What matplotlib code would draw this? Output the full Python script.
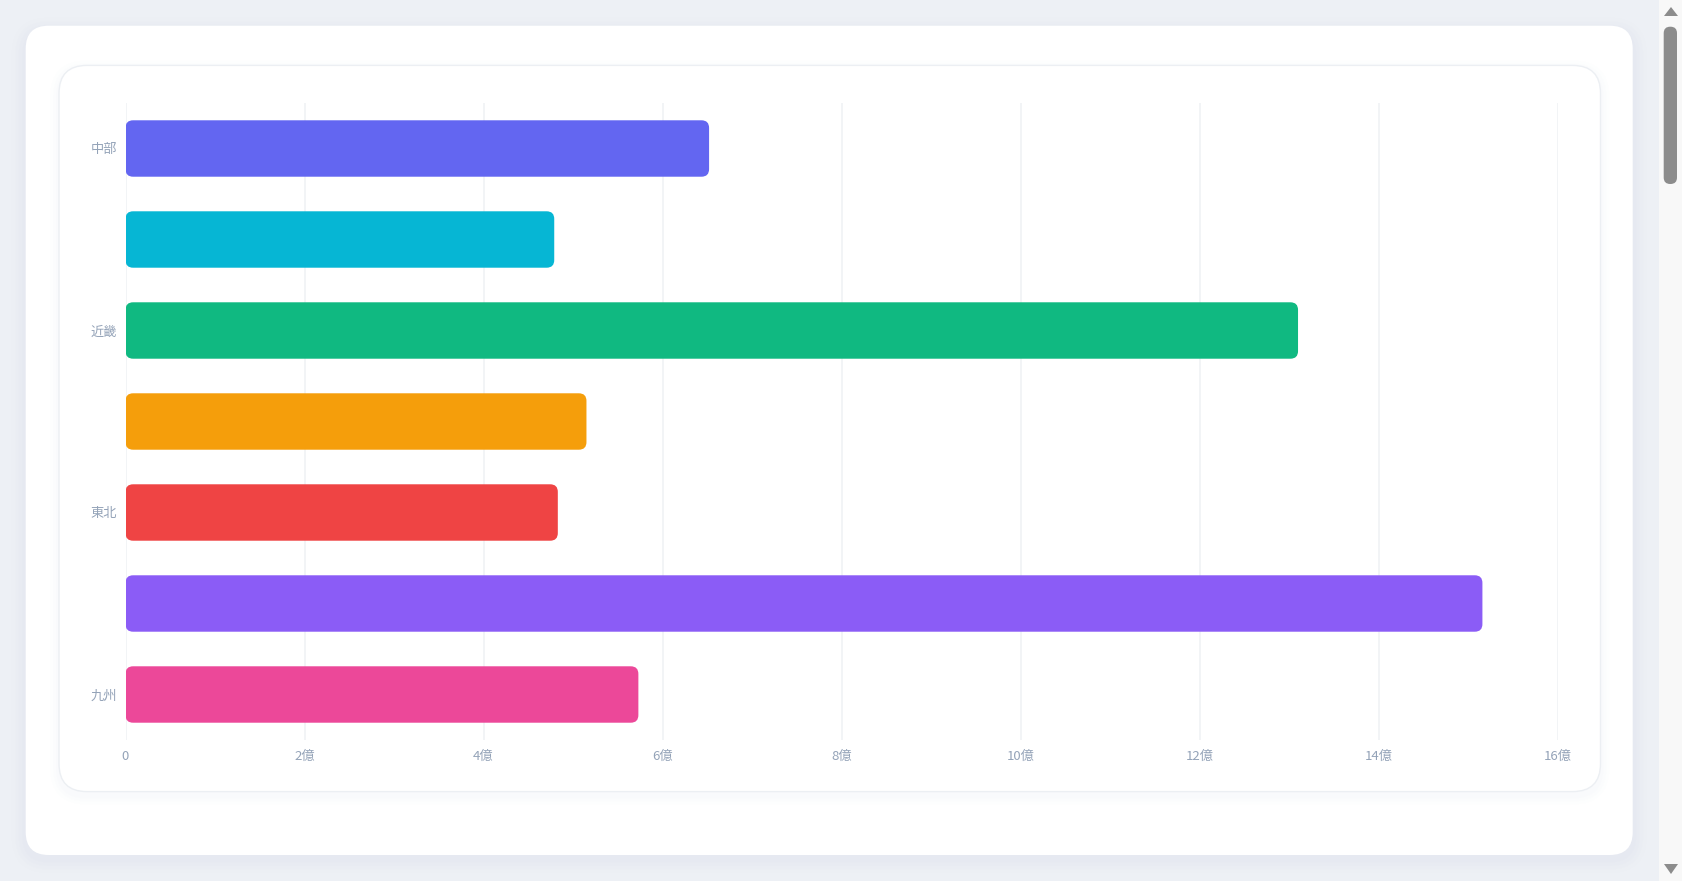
#!/usr/bin/env python3
"""Horizontal bar chart of regional values (units: 億), card-style layout."""
import matplotlib
matplotlib.use("Agg")
import matplotlib.pyplot as plt
from matplotlib.patches import FancyBboxPatch, Polygon

plt.rcParams["font.family"] = ["Noto Sans CJK JP", "DejaVu Sans"]

REGIONS = ["中部", "北海道", "近畿", "中国", "東北", "関東", "九州"]
VALUES = [6.52, 4.79, 13.10, 5.15, 4.83, 15.16, 5.73]   # 億
COLORS = ["#6366f1", "#06b6d4", "#10b981", "#f59e0b", "#ef4444", "#8b5cf6", "#ec4899"]
XTICKS = [0, 2, 4, 6, 8, 10, 12, 14, 16]
XLABELS = ["0"] + [f"{v}億" for v in XTICKS[1:]]

W, H = 1682, 881
TICK = "#94a3b8"
GRID = "#f0f2f5"


def card(fig, x0, y0, x1, y1, r, fc, ec="none", lw=0, z=0, alpha=1.0):
    # pixel coords, y measured from top of image
    p = FancyBboxPatch((x0, H - y1), x1 - x0, y1 - y0,
                       boxstyle=f"round,pad=0,rounding_size={r}",
                       fc=fc, ec=ec, lw=lw, transform=None, zorder=z, alpha=alpha)
    fig.patches.append(p)


fig = plt.figure(figsize=(W / 100, H / 100), dpi=100)
fig.patch.set_facecolor("#edf0f5")

# soft shadow + outer card
for i, a in enumerate([0.025, 0.03, 0.035, 0.04]):
    g = 14 - i * 3.5
    card(fig, 25.7 - g, 25.7 - g + 6, 1632.7 + g, 855 + g + 4, 23 + g, "#c5cedc", alpha=a)
card(fig, 25.7, 25.7, 1632.7, 855, 23, "white")
# inner card with faint shadow
for i, a in enumerate([0.02, 0.025, 0.03]):
    g = 9 - i * 3
    card(fig, 59 - g, 65.4 - g + 4, 1600.5 + g, 791.6 + g + 4, 28 + g, "#cbd3e0", alpha=a)
card(fig, 59, 65.4, 1600.5, 791.6, 28, "white", ec="#eceff3", lw=1.0)

# scrollbar
fig.patches.append(plt.Rectangle((1659, 0), W - 1659, H, fc="#f8f8f8", transform=None))
card(fig, 1663.7, 26.7, 1677, 184, 6.5, "#8c8c8c", z=2)
fig.patches.append(Polygon([(1664, H - 16), (1678, H - 16), (1671, H - 7)],
                           fc="#8c8c8c", transform=None))
fig.patches.append(Polygon([(1664, H - 864), (1678, H - 864), (1671, H - 874)],
                           fc="#8c8c8c", transform=None))

ax = fig.add_axes([125.5 / W, 141 / H, (1557.6 - 125.5) / W, (778 - 141) / H])
ax.set_zorder(10)
ax.set_facecolor("none")
ax.set_xlim(0, 16)
ax.set_ylim(len(REGIONS) - 0.5, -0.5)

bh = 0.62
for i, (v, c) in enumerate(zip(VALUES, COLORS)):
    ax.add_patch(FancyBboxPatch((0, i - bh / 2), v, bh,
                                boxstyle="round,pad=0,rounding_size=0.085",
                                mutation_aspect=0.98, fc=c, ec="none", zorder=3))

ax.set_xticks(XTICKS)
ax.set_xticklabels(XLABELS)
ax.set_yticks(range(len(REGIONS)))
ax.set_yticklabels([r if i % 2 == 0 else "" for i, r in enumerate(REGIONS)])
ax.tick_params(axis="both", length=0, labelsize=9.5, colors=TICK)
ax.tick_params(axis="x", pad=7)
ax.tick_params(axis="y", pad=6)
ax.grid(axis="x", color=GRID, lw=1.2, zorder=0)
ax.set_axisbelow(True)
for s in ax.spines.values():
    s.set_visible(False)

fig.savefig("out.png", dpi=100, facecolor=fig.get_facecolor())
